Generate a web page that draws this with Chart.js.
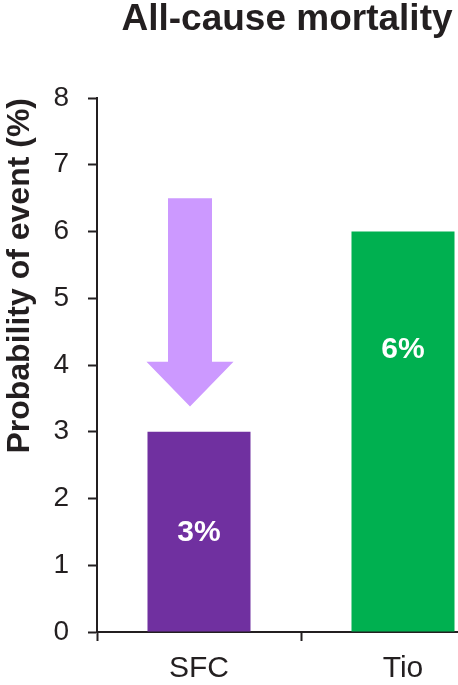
<!DOCTYPE html>
<html>
<head>
<meta charset="utf-8">
<script src="https://cdn.jsdelivr.net/npm/chart.js@4.4.1/dist/chart.umd.min.js"></script>
<style>
  html, body { margin: 0; padding: 0; background: #ffffff; overflow: hidden; }
  #wrap { width: 458px; height: 685px; overflow: hidden; position: relative; }
  canvas { display: block; }
</style>
</head>
<body>
<div id="wrap"><canvas id="c" width="574" height="685"></canvas></div>
<script>
// Data
const categories = ['SFC', 'Tio'];
const probability = [3, 6];            // % probability of event
const barColors = ['#7030A0', '#00B050'];
const yTicks = [0, 1, 2, 3, 4, 5, 6, 7, 8];
const labelLevels = [1.5, 4.25];       // height (in % units) where each value label sits
const arrowFrom = 6.5;                 // arrow tail (in % units)
const arrowHeadStart = 4.05;
const arrowTo = 3.38;                  // arrow tip (in % units)

const INK = '#231F20';
const FONT = "'Liberation Sans', Arial, sans-serif";

// Value labels inside the bars
const valueLabels = {
  id: 'valueLabels',
  afterDatasetsDraw(chart) {
    const ctx = chart.ctx;
    const meta = chart.getDatasetMeta(0);
    const y = chart.scales.y;
    ctx.save();
    ctx.fillStyle = '#ffffff';
    ctx.font = 'bold 30px ' + FONT;
    ctx.textAlign = 'center';
    ctx.textBaseline = 'middle';
    meta.data.forEach((bar, i) => {
      ctx.fillText(probability[i] + '%', bar.x, y.getPixelForValue(labelLevels[i]) + 1);
    });
    ctx.restore();
  }
};

// Downward arrow above the first bar
const downArrow = {
  id: 'downArrow',
  afterDatasetsDraw(chart) {
    const ctx = chart.ctx;
    const bar = chart.getDatasetMeta(0).data[0];
    const y = chart.scales.y;
    const cx = bar.x - 9;
    const shaftHalf = 22, headHalf = 43.5;
    const yTop = y.getPixelForValue(arrowFrom);
    const yHead = y.getPixelForValue(arrowHeadStart);
    const yTip = y.getPixelForValue(arrowTo);
    ctx.save();
    ctx.fillStyle = '#CC99FF';
    ctx.beginPath();
    ctx.moveTo(cx - shaftHalf, yTop);
    ctx.lineTo(cx + shaftHalf, yTop);
    ctx.lineTo(cx + shaftHalf, yHead);
    ctx.lineTo(cx + headHalf, yHead);
    ctx.lineTo(cx, yTip);
    ctx.lineTo(cx - headHalf, yHead);
    ctx.lineTo(cx - shaftHalf, yHead);
    ctx.closePath();
    ctx.fill();
    ctx.restore();
  }
};

new Chart(document.getElementById('c'), {
  type: 'bar',
  data: {
    labels: categories,
    datasets: [{
      data: probability,
      backgroundColor: barColors,
      borderWidth: 0,
      barPercentage: 0.505,
      categoryPercentage: 1
    }]
  },
  options: {
    responsive: false,
    animation: false,
    devicePixelRatio: 1,
    layout: { padding: 0 },
    plugins: {
      legend: { display: false },
      tooltip: { enabled: false },
      title: {
        display: true,
        text: 'All-cause mortality',
        color: INK,
        font: { family: FONT, size: 37, weight: 'bold', lineHeight: 1.05 },
        padding: { top: 0, bottom: 59.15 }
      }
    },
    scales: {
      x: {
        offset: true,
        grid: {
          display: true,
          offset: true,
          drawOnChartArea: false,
          drawTicks: true,
          tickLength: 9,
          tickWidth: 2,
          tickColor: INK
        },
        border: { display: true, color: INK, width: 2 },
        ticks: {
          color: INK,
          font: { family: FONT, size: 30 },
          padding: 10
        },
        afterFit(scale) { scale.height = 53; }
      },
      y: {
        min: 0,
        max: 8,
        afterBuildTicks(scale) { scale.ticks = yTicks.map(v => ({ value: v })); },
        grid: {
          display: true,
          drawOnChartArea: false,
          drawTicks: true,
          tickLength: 9,
          tickWidth: 2,
          tickColor: INK
        },
        border: { display: true, color: INK, width: 2 },
        ticks: {
          color: INK,
          font: { family: FONT, size: 28 },
          padding: 19
        },
        title: {
          display: true,
          text: 'Probability of event (%)',
          align: 'end',
          color: INK,
          font: { family: FONT, size: 32, weight: 'bold', lineHeight: 1.2 },
          padding: { top: 1, bottom: 0 }
        },
        afterFit(scale) { scale.width = 97; }
      },
      // empty spacer on the right so the plot ends past the visible edge
      spacer: {
        type: 'linear',
        position: 'right',
        display: true,
        grid: { display: false },
        border: { display: false },
        ticks: { display: false },
        afterFit(scale) { scale.width = 69; }
      }
    }
  },
  plugins: [valueLabels, downArrow]
});
</script>
</body>
</html>
